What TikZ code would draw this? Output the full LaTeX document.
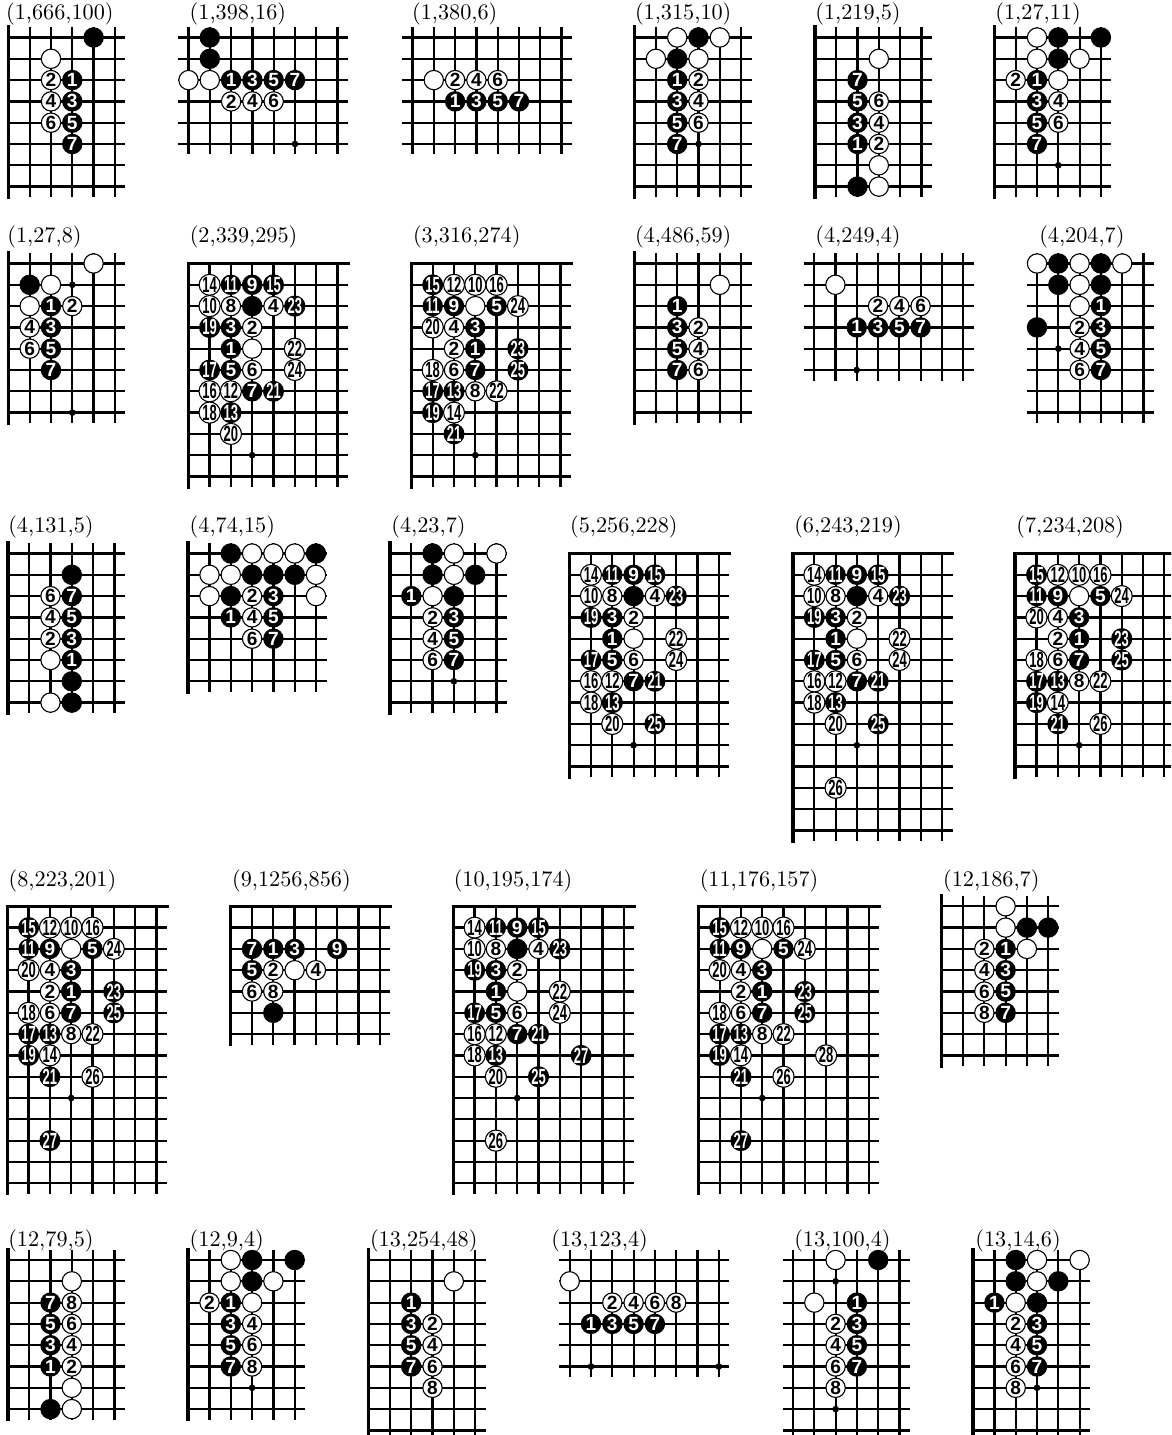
\documentclass[tikz,border=0pt]{standalone}
\usepackage{fontspec}
\usepackage{graphicx}
\newfontfamily\stonefam{Liberation Sans}
\newcommand\GG{21.3}
\newcommand\EE{10.5}
\newcommand\stn[1]{\ifnum#1>9 \scalebox{0.68}[1.15]{#1}\else #1\fi}
\tikzset{
  gridline/.style={line width=1.0pt},
  edgeline/.style={line width=1.6pt, line cap=rect},
  bstone/.style={circle, fill=black, inner sep=0pt, minimum size=9.2pt, text=white,
    font=\stonefam\bfseries\fontsize{8.6}{8.6}\selectfont},
  wstone/.style={circle, draw=black, line width=0.5pt, fill=white, inner sep=0pt,
    minimum size=8.7pt, text=black, font=\stonefam\bfseries\fontsize{8.6}{8.6}\selectfont},
  lbl/.style={anchor=base west, inner sep=0pt, font=\fontsize{10}{12}\selectfont},
}
% board: name, x0, y0, ncols, nrows, leftedge, topedge
\newcommand\goboard[7]{%
  \gdef\gbid{#1}\gdef\gbx{#2}\gdef\gby{#3}%
  \pgfmathsetmacro\gxl{#2-(1-#6)*\EE}%
  \pgfmathsetmacro\gxr{#2+(#4-1)*\GG+\EE}%
  \pgfmathsetmacro\gyt{#3-(1-#7)*\EE}%
  \pgfmathsetmacro\gyb{#3+(#5-1)*\GG+\EE}%
  \pgfmathtruncatemacro\gnc{#4-1}%
  \pgfmathtruncatemacro\gnr{#5-1}%
  \foreach \j in {0,...,\gnr} {\draw[gridline] (\gxl,{#3+\j*\GG}) -- (\gxr,{#3+\j*\GG});}%
  \foreach \i in {0,...,\gnc} {\draw[gridline] ({#2+\i*\GG},\gyt) -- ({#2+\i*\GG},\gyb);}%
  \ifnum#6=1 \draw[edgeline] (#2,\gyt) -- (#2,\gyb);\fi
  \ifnum#7=1 \draw[edgeline] (\gxl,#3) -- (\gxr,#3);\fi
}
\newcommand\golabel[3]{\node[lbl] (\gbid-lbl) at (#1,#2) {#3};}
\newcommand\bst[2]{\node[bstone] (\gbid-#1-#2) at ({\gbx+#1*\GG},{\gby+#2*\GG}) {};}
\newcommand\wst[2]{\node[wstone] (\gbid-#1-#2) at ({\gbx+#1*\GG},{\gby+#2*\GG}) {};}
\newcommand\bn[3]{\node[bstone] (\gbid-#1-#2) at ({\gbx+#1*\GG},{\gby+#2*\GG}) {\stn{#3}};}
\newcommand\wn[3]{\node[wstone] (\gbid-#1-#2) at ({\gbx+#1*\GG},{\gby+#2*\GG}) {\stn{#3}};}
\newcommand\hoshi[2]{\fill ({\gbx+#1*\GG},{\gby+#2*\GG}) circle[radius=1.5pt];}
\newcommand\patA{%
  \wn{1}{1}{14}\bn{2}{1}{11}\bn{3}{1}{9}\bn{4}{1}{15}
  \wn{1}{2}{10}\wn{2}{2}{8}\bst{3}{2}\wn{4}{2}{4}\bn{5}{2}{23}
  \bn{1}{3}{19}\bn{2}{3}{3}\wn{3}{3}{2}
  \bn{2}{4}{1}\wst{3}{4}\wn{5}{4}{22}
  \bn{1}{5}{17}\bn{2}{5}{5}\wn{3}{5}{6}\wn{5}{5}{24}
  \wn{1}{6}{16}\wn{2}{6}{12}\bn{3}{6}{7}\bn{4}{6}{21}
  \wn{1}{7}{18}\bn{2}{7}{13}
  \wn{2}{8}{20}
  \hoshi{3}{9}}
\newcommand\patQ{%
  \bn{1}{1}{15}\wn{2}{1}{12}\wn{3}{1}{10}\wn{4}{1}{16}
  \bn{1}{2}{11}\bn{2}{2}{9}\wst{3}{2}\bn{4}{2}{5}\wn{5}{2}{24}
  \wn{1}{3}{20}\wn{2}{3}{4}\bn{3}{3}{3}
  \wn{2}{4}{2}\bn{3}{4}{1}\bn{5}{4}{23}
  \wn{1}{5}{18}\wn{2}{5}{6}\bn{3}{5}{7}\bn{5}{5}{25}
  \bn{1}{6}{17}\bn{2}{6}{13}\wn{3}{6}{8}\wn{4}{6}{22}
  \bn{1}{7}{19}\wn{2}{7}{14}
  \bn{2}{8}{21}
  \hoshi{3}{9}}
\begin{document}
\begin{tikzpicture}[x=0.45pt,y=-0.45pt]
\clip (0,0) rectangle (1171,1435);
\fill[white] (0,0) rectangle (1171,1435);
% ---------------- Row 1
\goboard{A1}{8.4}{37.5}{6}{8}{1}{0}\golabel{5.7}{19.5}{(1,666,100)}
\bst{4}{0}\wst{2}{1}\wn{2}{2}{2}\bn{3}{2}{1}\wn{2}{3}{4}\bn{3}{3}{3}\wn{2}{4}{6}\bn{3}{4}{5}\bn{3}{5}{7}
\goboard{A2}{188.5}{37.5}{8}{6}{0}{0}\golabel{189.3}{19.5}{(1,398,16)}
\bst{1}{0}\bst{1}{1}\wst{0}{2}\wst{1}{2}\bn{2}{2}{1}\bn{3}{2}{3}\bn{4}{2}{5}\bn{5}{2}{7}
\wn{2}{3}{2}\wn{3}{3}{4}\wn{4}{3}{6}\hoshi{5}{5}
\goboard{A3}{412.5}{37.5}{8}{6}{0}{0}\golabel{411.7}{19.5}{(1,380,6)}
\wst{1}{2}\wn{2}{2}{2}\wn{3}{2}{4}\wn{4}{2}{6}\bn{2}{3}{1}\bn{3}{3}{3}\bn{4}{3}{5}\bn{5}{3}{7}
\goboard{A4}{634.6}{37.5}{6}{8}{1}{0}\golabel{634.6}{19.5}{(1,315,10)}
\wst{2}{0}\bst{3}{0}\wst{4}{0}\wst{1}{1}\bst{2}{1}\wst{3}{1}\bn{2}{2}{1}\wn{3}{2}{2}
\bn{2}{3}{3}\wn{3}{3}{4}\bn{2}{4}{5}\wn{3}{4}{6}\bn{2}{5}{7}\hoshi{3}{5}
\goboard{A5}{814.9}{37.5}{6}{8}{1}{0}\golabel{814.9}{19.5}{(1,219,5)}
\wst{3}{1}\bn{2}{2}{7}\bn{2}{3}{5}\wn{3}{3}{6}\bn{2}{4}{3}\wn{3}{4}{4}\bn{2}{5}{1}\wn{3}{5}{2}
\wst{3}{6}\bst{2}{7}\wst{3}{7}
\goboard{A6}{994.4}{37.5}{6}{8}{1}{0}\golabel{995}{19.5}{(1,27,11)}
\wst{2}{0}\bst{3}{0}\bst{5}{0}\wst{2}{1}\bst{3}{1}\wst{4}{1}\wn{1}{2}{2}\bn{2}{2}{1}\wst{3}{2}
\bn{2}{3}{3}\wn{3}{3}{4}\bn{2}{4}{5}\wn{3}{4}{6}\bn{2}{5}{7}\hoshi{3}{6}
% ---------------- Row 2
\goboard{B1}{8.4}{263.5}{6}{8}{1}{0}\golabel{7}{242.7}{(1,27,8)}
\wst{4}{0}\bst{1}{1}\wst{2}{1}\hoshi{3}{1}\wst{1}{2}\bn{2}{2}{1}\wn{3}{2}{2}
\wn{1}{3}{4}\bn{2}{3}{3}\wn{1}{4}{6}\bn{2}{4}{5}\bn{2}{5}{7}\hoshi{3}{7}
\goboard{B2}{188.3}{263.5}{8}{11}{1}{1}\golabel{189.4}{242.7}{(2,339,295)}
\patA
\goboard{B3}{411.4}{263.5}{8}{11}{1}{1}\golabel{412.6}{242.7}{(3,316,274)}
\patQ
\goboard{B4}{634.6}{263.5}{6}{8}{1}{0}\golabel{634.6}{242.7}{(4,486,59)}
\wst{4}{1}\bn{2}{2}{1}\bn{2}{3}{3}\wn{3}{3}{2}\bn{2}{4}{5}\wn{3}{4}{4}\bn{2}{5}{7}\wn{3}{5}{6}
\goboard{B5}{814.1}{263.5}{8}{6}{0}{0}\golabel{814.9}{242.7}{(4,249,4)}
\wst{1}{1}\wn{3}{2}{2}\wn{4}{2}{4}\wn{5}{2}{6}\bn{2}{3}{1}\bn{3}{3}{3}\bn{4}{3}{5}\bn{5}{3}{7}\hoshi{2}{5}
\goboard{B6}{1037}{263.5}{6}{8}{0}{0}\golabel{1038.8}{242.7}{(4,204,7)}
\wst{0}{0}\bst{1}{0}\wst{2}{0}\bst{3}{0}\wst{4}{0}
\bst{1}{1}\wst{2}{1}\bst{3}{1}
\wst{2}{2}\bn{3}{2}{1}
\bst{0}{3}\wn{2}{3}{2}\bn{3}{3}{3}
\hoshi{1}{4}\wn{2}{4}{4}\bn{3}{4}{5}
\wn{2}{5}{6}\bn{3}{5}{7}
% ---------------- Row 3
\goboard{C1}{7.9}{553.5}{6}{8}{1}{0}\golabel{7.9}{532}{(4,131,5)}
\bst{3}{1}\wn{2}{2}{6}\bn{3}{2}{7}\wn{2}{3}{4}\bn{3}{3}{5}\wn{2}{4}{2}\bn{3}{4}{3}
\wst{2}{5}\bn{3}{5}{1}\bst{3}{6}\wst{2}{7}\bst{3}{7}
\goboard{C2}{188.2}{553.5}{7}{7}{1}{0}\golabel{189.3}{532}{(4,74,15)}
\bst{2}{0}\wst{3}{0}\wst{4}{0}\wst{5}{0}\bst{6}{0}
\wst{1}{1}\wst{2}{1}\bst{3}{1}\bst{4}{1}\bst{5}{1}\wst{6}{1}
\wst{1}{2}\bst{2}{2}\wn{3}{2}{2}\bn{4}{2}{3}\wst{6}{2}
\bn{2}{3}{1}\wn{3}{3}{4}\bn{4}{3}{5}
\wn{3}{4}{6}\bn{4}{4}{7}
\goboard{C3}{390}{553.5}{6}{8}{1}{0}\golabel{391}{532}{(4,23,7)}
\bst{2}{0}\wst{3}{0}\wst{5}{0}\bst{2}{1}\wst{3}{1}\bst{4}{1}\bn{1}{2}{1}\wst{2}{2}\bst{3}{2}
\wn{2}{3}{2}\bn{3}{3}{3}\wn{2}{4}{4}\bn{3}{4}{5}\wn{2}{5}{6}\bn{3}{5}{7}\hoshi{3}{6}
\goboard{C4}{569.7}{553.5}{8}{11}{1}{1}\golabel{569.7}{532}{(5,256,228)}
\patA\bn{4}{8}{25}
\goboard{C5}{793}{553.5}{8}{14}{1}{1}\golabel{793.8}{532}{(6,243,219)}
\patA\bn{4}{8}{25}\wn{2}{11}{26}
\goboard{C6}{1015.2}{553.5}{8}{11}{1}{1}\golabel{1016}{532}{(7,234,208)}
\patQ\wn{4}{8}{26}
% ---------------- Row 4
\goboard{D1}{7.3}{906.3}{8}{14}{1}{1}\golabel{8.3}{886.5}{(8,223,201)}
\patQ\wn{4}{8}{26}\bn{2}{11}{27}
\goboard{D2}{230.7}{906.3}{8}{7}{1}{1}\golabel{231.7}{886.5}{(9,1256,856)}
\bn{1}{2}{7}\bn{2}{2}{1}\bn{3}{2}{3}\bn{5}{2}{9}\bn{1}{3}{5}\wn{2}{3}{2}\wst{3}{3}\wn{4}{3}{4}
\wn{1}{4}{6}\wn{2}{4}{8}\bst{2}{5}
\goboard{D3}{453.3}{906.3}{9}{14}{1}{1}\golabel{453.3}{886.5}{(10,195,174)}
\patA\bn{4}{8}{25}\wn{2}{11}{26}\bn{6}{7}{27}
\goboard{D4}{698.3}{906.3}{9}{14}{1}{1}\golabel{699.3}{886.5}{(11,176,157)}
\patQ\wn{4}{8}{26}\bn{2}{11}{27}\wn{6}{7}{28}
\goboard{D5}{941.7}{906.3}{6}{8}{1}{0}\golabel{942.7}{886.5}{(12,186,7)}
\wst{3}{0}\wst{3}{1}\bst{4}{1}\bst{5}{1}\wn{2}{2}{2}\bn{3}{2}{1}\wst{4}{2}
\wn{2}{3}{4}\bn{3}{3}{3}\wn{2}{4}{6}\bn{3}{4}{5}\wn{2}{5}{8}\bn{3}{5}{7}
% ---------------- Row 5
\goboard{E1}{7.9}{1260}{6}{8}{1}{0}\golabel{7.9}{1246}{(12,79,5)}
\wst{3}{1}\bn{2}{2}{7}\wn{3}{2}{8}\bn{2}{3}{5}\wn{3}{3}{6}\bn{2}{4}{3}\wn{3}{4}{4}
\bn{2}{5}{1}\wn{3}{5}{2}\wst{3}{6}\bst{2}{7}\wst{3}{7}
\goboard{E2}{188.2}{1260}{6}{8}{1}{0}\golabel{189.3}{1246}{(12,9,4)}
\wst{2}{0}\bst{3}{0}\bst{5}{0}\wst{2}{1}\bst{3}{1}\wst{4}{1}\wn{1}{2}{2}\bn{2}{2}{1}\wst{3}{2}
\bn{2}{3}{3}\wn{3}{3}{4}\bn{2}{4}{5}\wn{3}{4}{6}\bn{2}{5}{7}\wn{3}{5}{8}\hoshi{3}{6}
\goboard{E3}{368.6}{1260}{6}{9}{1}{0}\golabel{369.6}{1246}{(13,254,48)}
\wst{4}{1}\bn{2}{2}{1}\bn{2}{3}{3}\wn{3}{3}{2}\bn{2}{4}{5}\wn{3}{4}{4}\bn{2}{5}{7}\wn{3}{5}{6}\wn{3}{6}{8}
\goboard{E4}{569.7}{1260}{8}{6}{0}{0}\golabel{551}{1246}{(13,123,4)}
\wst{0}{1}\wn{2}{2}{2}\wn{3}{2}{4}\wn{4}{2}{6}\wn{5}{2}{8}\bn{1}{3}{1}\bn{2}{3}{3}\bn{3}{3}{5}\bn{4}{3}{7}
\hoshi{1}{5}\hoshi{7}{5}
\goboard{E5}{793}{1260}{6}{9}{0}{0}\golabel{793.8}{1246}{(13,100,4)}
\wst{2}{0}\bst{4}{0}\hoshi{2}{1}\wst{1}{2}\bn{3}{2}{1}\wn{2}{3}{2}\bn{3}{3}{3}\wn{2}{4}{4}\bn{3}{4}{5}
\wn{2}{5}{6}\bn{3}{5}{7}\wn{2}{6}{8}\hoshi{2}{7}
\goboard{E6}{973.1}{1260}{6}{9}{1}{0}\golabel{975}{1246}{(13,14,6)}
\bst{2}{0}\wst{3}{0}\wst{5}{0}\bst{2}{1}\wst{3}{1}\bst{4}{1}\bn{1}{2}{1}\wst{2}{2}\bst{3}{2}
\wn{2}{3}{2}\bn{3}{3}{3}\wn{2}{4}{4}\bn{3}{4}{5}\wn{2}{5}{6}\bn{3}{5}{7}\wn{2}{6}{8}\hoshi{3}{6}
\end{tikzpicture}
\end{document}
